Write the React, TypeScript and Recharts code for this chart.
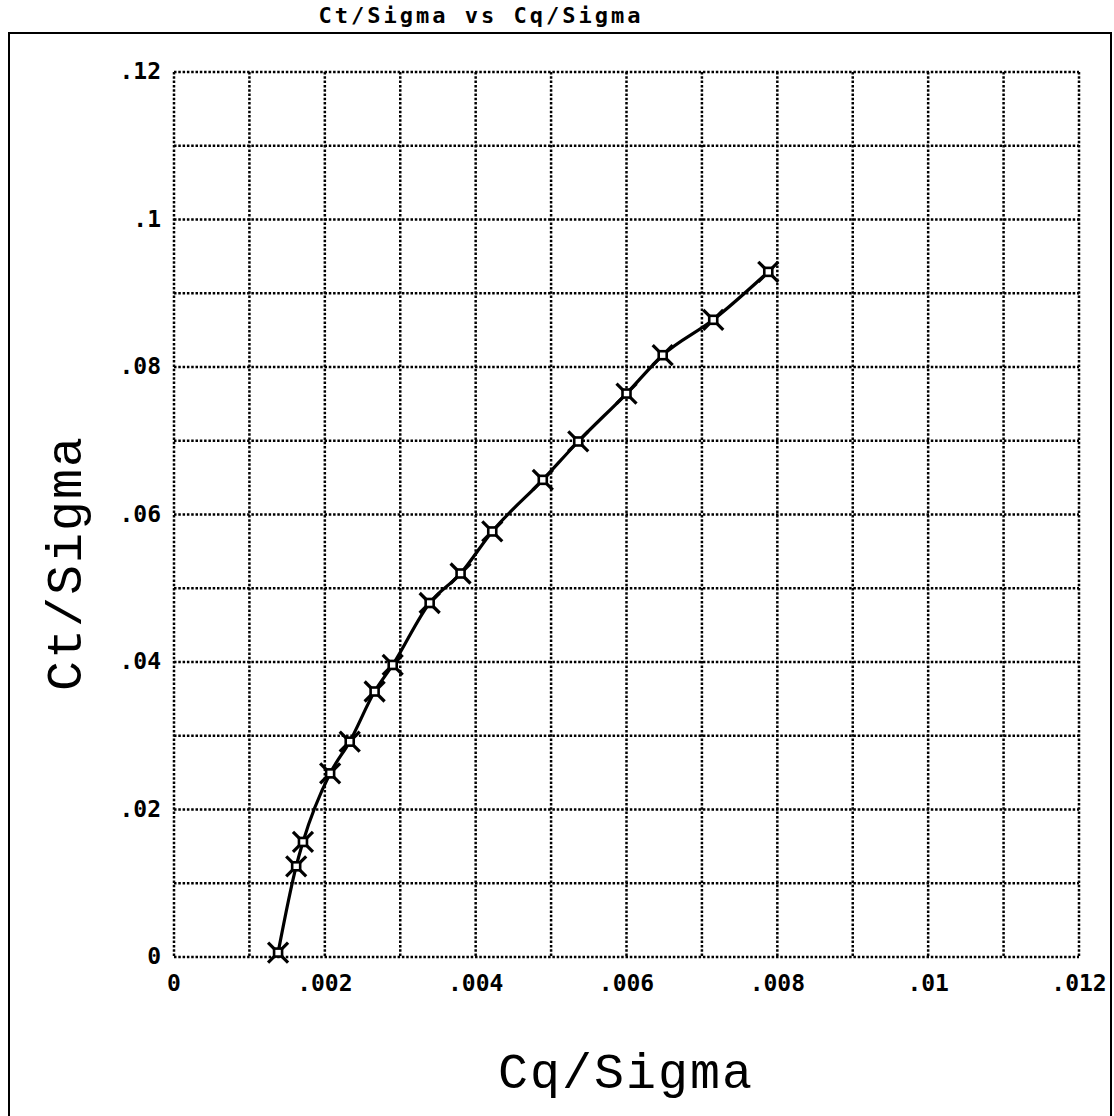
import { LineChart, Line, XAxis, YAxis, CartesianGrid, Label } from "recharts";

const cqSigma = [
  0.00138, 0.00162, 0.00171, 0.00207, 0.00233, 0.00266, 0.0029, 0.00339,
  0.0038, 0.00422, 0.00489, 0.00536, 0.006, 0.00648, 0.00715, 0.00788,
];
const ctSigma = [
  0.0006, 0.0123, 0.0156, 0.0249, 0.0292, 0.036, 0.0396, 0.048, 0.052,
  0.0577, 0.0647, 0.0699, 0.0764, 0.0816, 0.0864, 0.0929,
];

const xTicks = [
  0, 0.001, 0.002, 0.003, 0.004, 0.005, 0.006, 0.007, 0.008, 0.009, 0.01,
  0.011, 0.012,
];
const xTickLabels = ["0", "", ".002", "", ".004", "", ".006", "", ".008", "", ".01", "", ".012"];
const yTicks = [
  0, 0.01, 0.02, 0.03, 0.04, 0.05, 0.06, 0.07, 0.08, 0.09, 0.1, 0.11, 0.12,
];
const yTickLabels = ["0", "", ".02", "", ".04", "", ".06", "", ".08", "", ".1", "", ".12"];

const data = cqSigma.map((cq, i) => ({ cq, ct: ctSigma[i] }));

const tickFont = "'DejaVu Sans Mono', monospace";
const labelFont = "'Liberation Mono', 'DejaVu Sans Mono', monospace";

function XTick(props: any) {
  const { x, y, index } = props;
  const text = xTickLabels[index];
  if (!text) return null;
  return (
    <text x={x} y={y + 26} textAnchor="middle" fontFamily={tickFont} fontWeight="bold" fontSize={23} fill="#000">
      {text}
    </text>
  );
}

function YTick(props: any) {
  const { x, y, index } = props;
  const text = yTickLabels[index];
  if (!text) return null;
  return (
    <text x={x - 5} y={y + 7} textAnchor="end" fontFamily={tickFont} fontWeight="bold" fontSize={23} fill="#000">
      {text}
    </text>
  );
}

function Marker(props: any) {
  const { cx, cy } = props;
  if (cx == null || cy == null) return null;
  const a = 10;
  return (
    <g stroke="#000" strokeWidth={3.2} fill="none">
      <line x1={cx - a} y1={cy - a} x2={cx + a} y2={cy + a} />
      <line x1={cx - a} y1={cy + a} x2={cx + a} y2={cy - a} />
      <rect x={cx - 4} y={cy - 4} width={8} height={8} fill="#fff" strokeWidth={2.6} />
    </g>
  );
}

export default function App() {
  return (
    <div style={{ position: "absolute", left: 0, top: 0, width: 1114, height: 1116, background: "#fff", overflow: "hidden" }}>
      <div
        style={{
          position: "absolute",
          left: 8,
          top: 32,
          width: 1100,
          height: 1100,
          border: "2.5px solid #000",
        }}
      />
      <div
        style={{
          position: "absolute",
          left: 0,
          width: 962,
          top: 3,
          textAlign: "center",
          fontFamily: tickFont,
          fontWeight: "bold",
          fontSize: 22,
          letterSpacing: 3,
        }}
      >
        Ct/Sigma vs Cq/Sigma
      </div>
      <div style={{ position: "absolute", left: 0, top: 0 }}>
        <LineChart
          width={1114}
          height={1116}
          data={data}
          margin={{ top: 72, right: 35, bottom: 119, left: 114 }}
        >
          <CartesianGrid
            stroke="#000"
            strokeWidth={2.5}
            strokeDasharray="2.5 1.8"
            verticalValues={xTicks}
            horizontalValues={yTicks}
          />
          <XAxis
            type="number"
            dataKey="cq"
            domain={[0, 0.012]}
            ticks={xTicks}
            interval={0}
            axisLine={false}
            tickLine={false}
            height={40}
            tick={<XTick />}
          >
            <Label
              content={() => (
                <text x={626} y={1088} textAnchor="middle" fontFamily={labelFont} fontSize={50} letterSpacing={2} fill="#000">
                  Cq/Sigma
                </text>
              )}
            />
          </XAxis>
          <YAxis
            type="number"
            dataKey="ct"
            domain={[0, 0.12]}
            ticks={yTicks}
            interval={0}
            axisLine={false}
            tickLine={false}
            width={60}
            tick={<YTick />}
          >
            <Label
              content={() => (
                <text
                  x={81}
                  y={563}
                  textAnchor="middle"
                  fontFamily={labelFont}
                  fontSize={50}
                  letterSpacing={2}
                  fill="#000"
                  transform="rotate(-90, 81, 563)"
                >
                  Ct/Sigma
                </text>
              )}
            />
          </YAxis>
          <Line
            type="monotone"
            dataKey="ct"
            stroke="#000"
            strokeWidth={3.2}
            dot={<Marker />}
            activeDot={false}
            isAnimationActive={false}
          />
        </LineChart>
      </div>
    </div>
  );
}
